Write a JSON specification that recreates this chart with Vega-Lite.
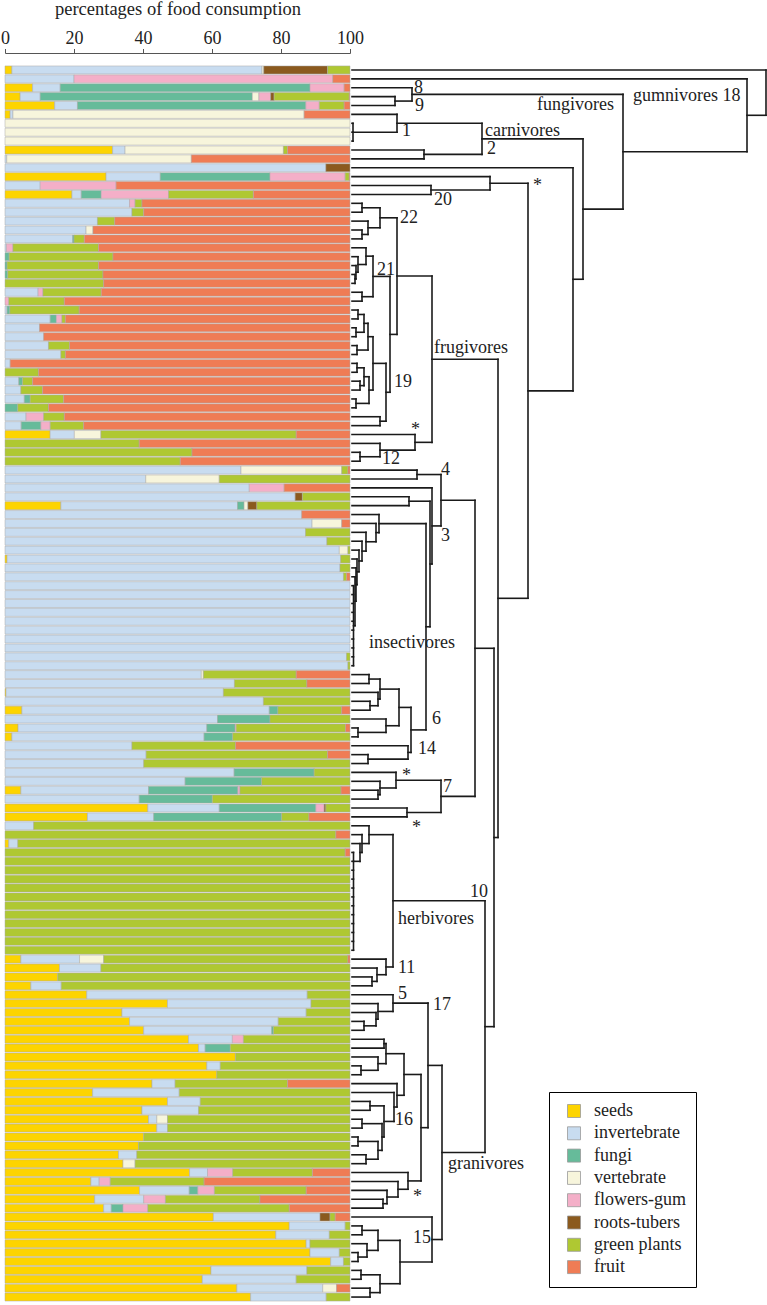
{
  "$schema": "https://vega.github.io/schema/vega-lite/v6.json",
  "autosize": {"type": "none"},
  "padding": {"left": 5, "top": 60.5, "right": 0, "bottom": 0},
  "width": 762,
  "height": 1246,
  "background": "white",
  "config": {"view": {"stroke": null}},
  "datasets": {
    "bars": [
      {"row":0,"seeds":2,"invertebrate":72.5,"vertebrate":0.5,"roots-tubers":18.5,"green plants":6.5},
      {"row":1,"invertebrate":20,"flowers-gum":75,"fruit":5},
      {"row":2,"seeds":8,"invertebrate":8,"fungi":72.4,"flowers-gum":9.9,"fruit":1.7},
      {"row":3,"seeds":4.4,"invertebrate":5.8,"fungi":61.5,"vertebrate":1.9,"flowers-gum":3.4,"roots-tubers":1,"green plants":21.8,"fruit":0.2},
      {"row":4,"seeds":14.4,"invertebrate":6.6,"fungi":66.2,"flowers-gum":3.9,"green plants":7.2,"fruit":1.7},
      {"row":5,"seeds":1.5,"invertebrate":0.8,"vertebrate":84.4,"fruit":13.3},
      {"row":6,"vertebrate":100},
      {"row":7,"vertebrate":100},
      {"row":8,"vertebrate":100},
      {"row":9,"seeds":31.2,"invertebrate":3.6,"vertebrate":45.9,"green plants":1.2,"fruit":18.1},
      {"row":10,"invertebrate":0.5,"vertebrate":53.5,"fruit":46},
      {"row":11,"invertebrate":93,"roots-tubers":7},
      {"row":12,"seeds":29.3,"invertebrate":15.7,"fungi":31.8,"flowers-gum":21.8,"green plants":1.2,"fruit":0.2},
      {"row":13,"invertebrate":10.2,"flowers-gum":22,"fruit":67.8},
      {"row":14,"seeds":19.4,"invertebrate":2.7,"fungi":5.8,"flowers-gum":19.5,"green plants":24.6,"fruit":28},
      {"row":15,"invertebrate":36.1,"flowers-gum":1.6,"green plants":2,"fruit":60.3},
      {"row":16,"invertebrate":36.8,"green plants":3.4,"fruit":59.8},
      {"row":17,"invertebrate":26.8,"green plants":5,"fruit":68.2},
      {"row":18,"invertebrate":23.5,"vertebrate":2,"fruit":74.5},
      {"row":19,"invertebrate":19.6,"fungi":0.4,"green plants":3,"fruit":77},
      {"row":20,"invertebrate":0.4,"flowers-gum":1.9,"green plants":24.8,"fruit":72.9},
      {"row":21,"fungi":1.2,"green plants":30.1,"fruit":68.7},
      {"row":22,"fungi":0.6,"green plants":26.5,"fruit":72.9},
      {"row":23,"fungi":0.8,"green plants":27.6,"fruit":71.6},
      {"row":24,"green plants":28.6,"fruit":71.4},
      {"row":25,"invertebrate":9.6,"flowers-gum":1.4,"green plants":16.9,"fruit":72.1},
      {"row":26,"flowers-gum":1.1,"green plants":16.1,"fruit":82.8},
      {"row":27,"invertebrate":0.6,"fungi":0.8,"green plants":20.1,"fruit":78.5},
      {"row":28,"invertebrate":13.1,"fungi":1.8,"flowers-gum":1.6,"green plants":1,"fruit":82.5},
      {"row":29,"invertebrate":10,"fruit":90},
      {"row":30,"invertebrate":11.2,"fruit":88.8},
      {"row":31,"invertebrate":12.6,"green plants":6.1,"fruit":81.3},
      {"row":32,"invertebrate":16.2,"green plants":1.3,"fruit":82.5},
      {"row":33,"invertebrate":1.5,"fruit":98.5},
      {"row":34,"green plants":9.7,"fruit":90.3},
      {"row":35,"invertebrate":4,"fungi":1.1,"green plants":2.9,"fruit":92},
      {"row":36,"invertebrate":4.6,"green plants":6.3,"fruit":89.1},
      {"row":37,"invertebrate":5.6,"fungi":1.7,"green plants":9.7,"fruit":83},
      {"row":38,"fungi":3.7,"green plants":8.9,"fruit":87.4},
      {"row":39,"invertebrate":6.1,"flowers-gum":5.1,"green plants":6,"fruit":82.8},
      {"row":40,"invertebrate":4.7,"fungi":5.7,"flowers-gum":2.7,"green plants":9.7,"fruit":77.2},
      {"row":41,"seeds":13.1,"invertebrate":7,"vertebrate":7.7,"green plants":56.6,"fruit":15.6},
      {"row":42,"green plants":38.9,"fruit":61.1},
      {"row":43,"green plants":54.2,"fruit":45.8},
      {"row":44,"green plants":50.8,"fruit":49.2},
      {"row":45,"invertebrate":68.4,"vertebrate":29.2,"green plants":1.8,"fruit":0.6},
      {"row":46,"invertebrate":40.8,"vertebrate":21.3,"green plants":37.9},
      {"row":47,"invertebrate":70.8,"flowers-gum":10.1,"fruit":19.1},
      {"row":48,"invertebrate":84.1,"roots-tubers":2.1,"green plants":13.8},
      {"row":49,"seeds":16.2,"invertebrate":51.2,"fungi":1.9,"vertebrate":1.1,"roots-tubers":2.6,"green plants":27},
      {"row":50,"invertebrate":86,"fruit":14},
      {"row":51,"invertebrate":89,"vertebrate":8.6,"fruit":2.4},
      {"row":52,"invertebrate":87.1,"green plants":12.9},
      {"row":53,"invertebrate":93.3,"green plants":6.7},
      {"row":54,"invertebrate":96.9,"vertebrate":2.5,"green plants":0.6},
      {"row":55,"seeds":0.6,"invertebrate":96.7,"green plants":2.7},
      {"row":56,"invertebrate":97.1,"green plants":2.9},
      {"row":57,"invertebrate":98.1,"green plants":0.9,"fruit":1},
      {"row":58,"invertebrate":100},
      {"row":59,"invertebrate":100},
      {"row":60,"invertebrate":100},
      {"row":61,"invertebrate":100},
      {"row":62,"invertebrate":100},
      {"row":63,"invertebrate":100},
      {"row":64,"invertebrate":100},
      {"row":65,"invertebrate":100},
      {"row":66,"invertebrate":99,"green plants":1},
      {"row":67,"invertebrate":99.4,"green plants":0.6},
      {"row":68,"invertebrate":56.9,"vertebrate":0.6,"green plants":26.9,"fruit":15.6},
      {"row":69,"invertebrate":66.5,"green plants":21,"fruit":12.5},
      {"row":70,"seeds":0.3,"invertebrate":63,"green plants":36.7},
      {"row":71,"invertebrate":74.9,"green plants":25.1},
      {"row":72,"seeds":4.9,"invertebrate":71.7,"fungi":2.5,"green plants":18.5,"fruit":2.4},
      {"row":73,"invertebrate":61.6,"fungi":15.2,"green plants":23.2},
      {"row":74,"seeds":3.8,"invertebrate":54.7,"fungi":8.2,"flowers-gum":0.3,"green plants":31.7,"fruit":1.3},
      {"row":75,"seeds":2,"invertebrate":55.7,"fungi":8.3,"green plants":34},
      {"row":76,"invertebrate":36.8,"green plants":30,"fruit":33.2},
      {"row":77,"invertebrate":40.9,"green plants":52.6,"fruit":6.5},
      {"row":78,"invertebrate":40.2,"green plants":59.8},
      {"row":79,"invertebrate":66.4,"fungi":23.2,"green plants":10.4},
      {"row":80,"invertebrate":52.2,"fungi":22.2,"green plants":25.6},
      {"row":81,"seeds":4.6,"invertebrate":37,"fungi":25.9,"flowers-gum":0.6,"green plants":29.3,"fruit":2.6},
      {"row":82,"invertebrate":38.9,"fungi":21.2,"green plants":39.9},
      {"row":83,"seeds":41.4,"invertebrate":20.7,"fungi":28,"flowers-gum":2.4,"roots-tubers":0.5,"green plants":7},
      {"row":84,"seeds":23.9,"invertebrate":19.2,"fungi":37.1,"green plants":7.9,"fruit":11.9},
      {"row":85,"invertebrate":8.3,"green plants":91.7},
      {"row":86,"green plants":95.9,"fruit":4.1},
      {"row":87,"seeds":1.1,"invertebrate":2.6,"green plants":96.3},
      {"row":88,"green plants":98.6,"fruit":1.4},
      {"row":89,"green plants":100},
      {"row":90,"green plants":100},
      {"row":91,"green plants":100},
      {"row":92,"green plants":100},
      {"row":93,"green plants":100},
      {"row":94,"green plants":100},
      {"row":95,"green plants":100},
      {"row":96,"green plants":100},
      {"row":97,"green plants":100},
      {"row":98,"green plants":100},
      {"row":99,"green plants":100},
      {"row":100,"seeds":4.6,"invertebrate":17,"vertebrate":7,"green plants":70.8,"fruit":0.6},
      {"row":101,"seeds":15.8,"invertebrate":12,"green plants":72.2},
      {"row":102,"seeds":15.3,"green plants":84.7},
      {"row":103,"seeds":7.5,"invertebrate":8.8,"green plants":83.7},
      {"row":104,"seeds":23.7,"invertebrate":63.9,"green plants":12.4},
      {"row":105,"seeds":47.1,"invertebrate":41.6,"green plants":11.3},
      {"row":106,"seeds":33.9,"invertebrate":53.4,"green plants":12.7},
      {"row":107,"seeds":36.1,"invertebrate":43.1,"green plants":20.8},
      {"row":108,"seeds":40.2,"invertebrate":37.1,"fungi":0.5,"green plants":22.2},
      {"row":109,"seeds":53.2,"invertebrate":12.7,"flowers-gum":3.2,"green plants":30.9},
      {"row":110,"seeds":56.1,"invertebrate":1.9,"fungi":7.3,"green plants":34.7},
      {"row":111,"seeds":66.8,"green plants":33.2},
      {"row":112,"seeds":58.5,"invertebrate":3.9,"green plants":37.6},
      {"row":113,"seeds":61.4,"green plants":38.6},
      {"row":114,"seeds":42.6,"invertebrate":6.7,"green plants":32.6,"fruit":18.1},
      {"row":115,"seeds":25.4,"invertebrate":25.1,"green plants":49.5},
      {"row":116,"seeds":47.1,"invertebrate":9.5,"green plants":43.4},
      {"row":117,"seeds":39.7,"invertebrate":16.4,"green plants":43.9},
      {"row":118,"seeds":41.6,"invertebrate":2.4,"vertebrate":3.1,"green plants":52.9},
      {"row":119,"seeds":44,"invertebrate":3.1,"green plants":52.9},
      {"row":120,"seeds":40.2,"green plants":59.8},
      {"row":121,"seeds":38.7,"green plants":61.3},
      {"row":122,"seeds":32.9,"invertebrate":5.3,"green plants":61.8},
      {"row":123,"seeds":34.2,"vertebrate":3.5,"green plants":62.3},
      {"row":124,"seeds":53.5,"invertebrate":5.2,"flowers-gum":7.3,"green plants":23.1,"fruit":10.9},
      {"row":125,"seeds":24.9,"invertebrate":2.4,"flowers-gum":3.2,"green plants":27.2,"fruit":42.3},
      {"row":126,"seeds":39,"invertebrate":14.4,"fungi":2.5,"flowers-gum":4.8,"green plants":26.6,"fruit":12.7},
      {"row":127,"seeds":26,"invertebrate":14.2,"flowers-gum":6.3,"green plants":27.4,"fruit":26.1},
      {"row":128,"seeds":28.6,"invertebrate":2.2,"fungi":3.4,"flowers-gum":7.2,"green plants":41,"fruit":17.6},
      {"row":129,"seeds":60.4,"invertebrate":30.9,"roots-tubers":2.9,"green plants":1.5,"fruit":4.3},
      {"row":130,"seeds":82.4,"invertebrate":16.2,"green plants":1.4},
      {"row":131,"seeds":78.5,"invertebrate":15.5,"green plants":6},
      {"row":132,"seeds":87.3,"invertebrate":1.1,"green plants":11.6},
      {"row":133,"seeds":88.4,"invertebrate":8.5,"green plants":3.1},
      {"row":134,"seeds":94.4,"invertebrate":3.7,"green plants":1.9},
      {"row":135,"seeds":59.7,"invertebrate":27.8,"green plants":12.5},
      {"row":136,"seeds":57.2,"invertebrate":27.2,"green plants":15.6},
      {"row":137,"seeds":67.2,"invertebrate":24.9,"vertebrate":4,"fruit":3.9},
      {"row":138,"seeds":71.2,"invertebrate":21.9,"green plants":6.9}
    ],
    "tree": [
      {"d1":43,"d2":43,"r1":3,"r2":4},{"d1":0,"d2":43,"r1":3,"r2":3},{"d1":0,"d2":43,"r1":4,"r2":4},
      {"d1":60,"d2":60,"r1":2,"r2":3.5},{"d1":0,"d2":60,"r1":2,"r2":2},{"d1":43,"d2":60,"r1":3.5,"r2":3.5},
      {"d1":1,"d2":1,"r1":6,"r2":8},{"d1":0,"d2":1,"r1":6,"r2":6},{"d1":0,"d2":1,"r1":7,"r2":7},{"d1":0,"d2":1,"r1":8,"r2":8},
      {"d1":45,"d2":45,"r1":5,"r2":7},{"d1":0,"d2":45,"r1":5,"r2":5},{"d1":1,"d2":45,"r1":7,"r2":7},
      {"d1":72,"d2":72,"r1":9,"r2":10},{"d1":0,"d2":72,"r1":9,"r2":9},{"d1":0,"d2":72,"r1":10,"r2":10},
      {"d1":130,"d2":130,"r1":6,"r2":9.5},{"d1":45,"d2":130,"r1":6,"r2":6},{"d1":72,"d2":130,"r1":9.5,"r2":9.5},
      {"d1":79,"d2":79,"r1":13,"r2":14},{"d1":0,"d2":79,"r1":13,"r2":13},{"d1":0,"d2":79,"r1":14,"r2":14},
      {"d1":138,"d2":138,"r1":12,"r2":13.5},{"d1":0,"d2":138,"r1":12,"r2":12},{"d1":79,"d2":138,"r1":13.5,"r2":13.5},
      {"d1":10,"d2":10,"r1":15,"r2":16},{"d1":0,"d2":10,"r1":15,"r2":15},{"d1":0,"d2":10,"r1":16,"r2":16},
      {"d1":10,"d2":10,"r1":18,"r2":19},{"d1":0,"d2":10,"r1":18,"r2":18},{"d1":0,"d2":10,"r1":19,"r2":19},
      {"d1":16,"d2":16,"r1":17,"r2":18.5},{"d1":0,"d2":16,"r1":17,"r2":17},{"d1":10,"d2":16,"r1":18.5,"r2":18.5},
      {"d1":28,"d2":28,"r1":15.5,"r2":17.75},{"d1":10,"d2":28,"r1":15.5,"r2":15.5},{"d1":16,"d2":28,"r1":17.75,"r2":17.75},
      {"d1":3,"d2":3,"r1":23,"r2":24},{"d1":0,"d2":3,"r1":23,"r2":23},{"d1":0,"d2":3,"r1":24,"r2":24},
      {"d1":4,"d2":4,"r1":22,"r2":23.5},{"d1":0,"d2":4,"r1":22,"r2":22},{"d1":3,"d2":4,"r1":23.5,"r2":23.5},
      {"d1":6,"d2":6,"r1":21,"r2":22.75},{"d1":0,"d2":6,"r1":21,"r2":21},{"d1":4,"d2":6,"r1":22.75,"r2":22.75},
      {"d1":14,"d2":14,"r1":20,"r2":21.88},{"d1":0,"d2":14,"r1":20,"r2":20},{"d1":6,"d2":14,"r1":21.88,"r2":21.88},
      {"d1":10,"d2":10,"r1":25,"r2":26},{"d1":0,"d2":10,"r1":25,"r2":25},{"d1":0,"d2":10,"r1":26,"r2":26},
      {"d1":21,"d2":21,"r1":20.94,"r2":25.5},{"d1":14,"d2":21,"r1":20.94,"r2":20.94},{"d1":10,"d2":21,"r1":25.5,"r2":25.5},
      {"d1":6,"d2":6,"r1":27,"r2":28},{"d1":0,"d2":6,"r1":27,"r2":27},{"d1":0,"d2":6,"r1":28,"r2":28},
      {"d1":4,"d2":4,"r1":29,"r2":30},{"d1":0,"d2":4,"r1":29,"r2":29},{"d1":0,"d2":4,"r1":30,"r2":30},
      {"d1":12,"d2":12,"r1":27.5,"r2":29.5},{"d1":6,"d2":12,"r1":27.5,"r2":27.5},{"d1":4,"d2":12,"r1":29.5,"r2":29.5},
      {"d1":5,"d2":5,"r1":31,"r2":32},{"d1":0,"d2":5,"r1":31,"r2":31},{"d1":0,"d2":5,"r1":32,"r2":32},
      {"d1":16,"d2":16,"r1":28.5,"r2":31.5},{"d1":12,"d2":16,"r1":28.5,"r2":28.5},{"d1":5,"d2":16,"r1":31.5,"r2":31.5},
      {"d1":5,"d2":5,"r1":33,"r2":34},{"d1":0,"d2":5,"r1":33,"r2":33},{"d1":0,"d2":5,"r1":34,"r2":34},
      {"d1":8,"d2":8,"r1":35,"r2":36},{"d1":0,"d2":8,"r1":35,"r2":35},{"d1":0,"d2":8,"r1":36,"r2":36},
      {"d1":12,"d2":12,"r1":33.5,"r2":35.5},{"d1":5,"d2":12,"r1":33.5,"r2":33.5},{"d1":8,"d2":12,"r1":35.5,"r2":35.5},
      {"d1":4,"d2":4,"r1":37,"r2":38},{"d1":0,"d2":4,"r1":37,"r2":37},{"d1":0,"d2":4,"r1":38,"r2":38},
      {"d1":17,"d2":17,"r1":34.5,"r2":37.5},{"d1":12,"d2":17,"r1":34.5,"r2":34.5},{"d1":4,"d2":17,"r1":37.5,"r2":37.5},
      {"d1":21,"d2":21,"r1":30,"r2":36},{"d1":16,"d2":21,"r1":30,"r2":30},{"d1":17,"d2":21,"r1":36,"r2":36},
      {"d1":28,"d2":28,"r1":39,"r2":40},{"d1":0,"d2":28,"r1":39,"r2":39},{"d1":0,"d2":28,"r1":40,"r2":40},
      {"d1":34,"d2":34,"r1":33,"r2":39.5},{"d1":21,"d2":34,"r1":33,"r2":33},{"d1":28,"d2":34,"r1":39.5,"r2":39.5},
      {"d1":38,"d2":38,"r1":23.22,"r2":36.25},{"d1":21,"d2":38,"r1":23.22,"r2":23.22},{"d1":34,"d2":38,"r1":36.25,"r2":36.25},
      {"d1":45,"d2":45,"r1":16.63,"r2":29.74},{"d1":28,"d2":45,"r1":16.63,"r2":16.63},{"d1":38,"d2":45,"r1":29.74,"r2":29.74},
      {"d1":8,"d2":8,"r1":43,"r2":44},{"d1":0,"d2":8,"r1":43,"r2":43},{"d1":0,"d2":8,"r1":44,"r2":44},
      {"d1":28,"d2":28,"r1":42,"r2":43.5},{"d1":0,"d2":28,"r1":42,"r2":42},{"d1":8,"d2":28,"r1":43.5,"r2":43.5},
      {"d1":63,"d2":63,"r1":41,"r2":42.75},{"d1":0,"d2":63,"r1":41,"r2":41},{"d1":28,"d2":63,"r1":42.75,"r2":42.75},
      {"d1":80,"d2":80,"r1":23.18,"r2":41.88},{"d1":45,"d2":80,"r1":23.18,"r2":23.18},{"d1":63,"d2":80,"r1":41.88,"r2":41.88},
      {"d1":65,"d2":65,"r1":45,"r2":46},{"d1":0,"d2":65,"r1":45,"r2":45},{"d1":0,"d2":65,"r1":46,"r2":46},
      {"d1":57,"d2":57,"r1":48,"r2":49},{"d1":0,"d2":57,"r1":48,"r2":48},{"d1":0,"d2":57,"r1":49,"r2":49},
      {"d1":1.5,"d2":1.5,"r1":58,"r2":67},
      {"d1":0,"d2":1.5,"r1":58,"r2":58},{"d1":0,"d2":1.5,"r1":59,"r2":59},{"d1":0,"d2":1.5,"r1":60,"r2":60},{"d1":0,"d2":1.5,"r1":61,"r2":61},{"d1":0,"d2":1.5,"r1":62,"r2":62},
      {"d1":0,"d2":1.5,"r1":63,"r2":63},{"d1":0,"d2":1.5,"r1":64,"r2":64},{"d1":0,"d2":1.5,"r1":65,"r2":65},{"d1":0,"d2":1.5,"r1":66,"r2":66},{"d1":0,"d2":1.5,"r1":67,"r2":67},
      {"d1":3,"d2":3,"r1":57,"r2":62.5},{"d1":0,"d2":3,"r1":57,"r2":57},{"d1":1.5,"d2":3,"r1":62.5,"r2":62.5},
      {"d1":4,"d2":4,"r1":56,"r2":59.75},{"d1":0,"d2":4,"r1":56,"r2":56},{"d1":3,"d2":4,"r1":59.75,"r2":59.75},
      {"d1":5,"d2":5,"r1":55,"r2":57.88},{"d1":0,"d2":5,"r1":55,"r2":55},{"d1":4,"d2":5,"r1":57.88,"r2":57.88},
      {"d1":7,"d2":7,"r1":54,"r2":56.44},{"d1":0,"d2":7,"r1":54,"r2":54},{"d1":5,"d2":7,"r1":56.44,"r2":56.44},
      {"d1":10,"d2":10,"r1":53,"r2":55.22},{"d1":0,"d2":10,"r1":53,"r2":53},{"d1":7,"d2":10,"r1":55.22,"r2":55.22},
      {"d1":14,"d2":14,"r1":52,"r2":54.11},{"d1":0,"d2":14,"r1":52,"r2":52},{"d1":10,"d2":14,"r1":54.11,"r2":54.11},
      {"d1":24,"d2":24,"r1":51,"r2":53.06},{"d1":0,"d2":24,"r1":51,"r2":51},{"d1":14,"d2":24,"r1":53.06,"r2":53.06},
      {"d1":27,"d2":27,"r1":50,"r2":52.03},{"d1":0,"d2":27,"r1":50,"r2":50},{"d1":24,"d2":27,"r1":52.03,"r2":52.03},
      {"d1":17,"d2":17,"r1":68,"r2":69},{"d1":0,"d2":17,"r1":68,"r2":68},{"d1":0,"d2":17,"r1":69,"r2":69},
      {"d1":18,"d2":18,"r1":71,"r2":72},{"d1":0,"d2":18,"r1":71,"r2":71},{"d1":0,"d2":18,"r1":72,"r2":72},
      {"d1":26,"d2":26,"r1":70,"r2":71.5},{"d1":0,"d2":26,"r1":70,"r2":70},{"d1":18,"d2":26,"r1":71.5,"r2":71.5},
      {"d1":28,"d2":28,"r1":68.5,"r2":70.75},{"d1":17,"d2":28,"r1":68.5,"r2":68.5},{"d1":26,"d2":28,"r1":70.75,"r2":70.75},
      {"d1":6,"d2":6,"r1":74,"r2":75},{"d1":0,"d2":6,"r1":74,"r2":74},{"d1":0,"d2":6,"r1":75,"r2":75},
      {"d1":34,"d2":34,"r1":73,"r2":74.5},{"d1":0,"d2":34,"r1":73,"r2":73},{"d1":6,"d2":34,"r1":74.5,"r2":74.5},
      {"d1":47,"d2":47,"r1":69.63,"r2":73.75},{"d1":28,"d2":47,"r1":69.63,"r2":69.63},{"d1":34,"d2":47,"r1":73.75,"r2":73.75},
      {"d1":16,"d2":16,"r1":77,"r2":78},{"d1":0,"d2":16,"r1":77,"r2":77},{"d1":0,"d2":16,"r1":78,"r2":78},
      {"d1":56,"d2":56,"r1":76,"r2":77.5},{"d1":0,"d2":56,"r1":76,"r2":76},{"d1":16,"d2":56,"r1":77.5,"r2":77.5},
      {"d1":59,"d2":59,"r1":71.69,"r2":76.75},{"d1":47,"d2":59,"r1":71.69,"r2":71.69},{"d1":56,"d2":59,"r1":76.75,"r2":76.75},
      {"d1":74,"d2":74,"r1":51.02,"r2":74.22},{"d1":27,"d2":74,"r1":51.02,"r2":51.02},{"d1":59,"d2":74,"r1":74.22,"r2":74.22},
      {"d1":78,"d2":78,"r1":48.5,"r2":62.62},{"d1":57,"d2":78,"r1":48.5,"r2":48.5},{"d1":74,"d2":78,"r1":62.62,"r2":62.62},
      {"d1":80,"d2":80,"r1":47,"r2":55.56},{"d1":0,"d2":80,"r1":47,"r2":47},{"d1":78,"d2":80,"r1":55.56,"r2":55.56},
      {"d1":89,"d2":89,"r1":45.5,"r2":51.28},{"d1":65,"d2":89,"r1":45.5,"r2":45.5},{"d1":80,"d2":89,"r1":51.28,"r2":51.28},
      {"d1":26,"d2":26,"r1":81,"r2":82},{"d1":0,"d2":26,"r1":81,"r2":81},{"d1":0,"d2":26,"r1":82,"r2":82},
      {"d1":28,"d2":28,"r1":80,"r2":81.5},{"d1":0,"d2":28,"r1":80,"r2":80},{"d1":26,"d2":28,"r1":81.5,"r2":81.5},
      {"d1":44,"d2":44,"r1":79,"r2":80.75},{"d1":0,"d2":44,"r1":79,"r2":79},{"d1":28,"d2":44,"r1":80.75,"r2":80.75},
      {"d1":55,"d2":55,"r1":83,"r2":84},{"d1":0,"d2":55,"r1":83,"r2":83},{"d1":0,"d2":55,"r1":84,"r2":84},
      {"d1":89,"d2":89,"r1":79.88,"r2":83.5},{"d1":44,"d2":89,"r1":79.88,"r2":79.88},{"d1":55,"d2":89,"r1":83.5,"r2":83.5},
      {"d1":123,"d2":123,"r1":48.39,"r2":81.69},{"d1":89,"d2":123,"r1":48.39,"r2":48.39},{"d1":89,"d2":123,"r1":81.69,"r2":81.69},
      {"d1":1.5,"d2":1.5,"r1":88,"r2":99},
      {"d1":0,"d2":1.5,"r1":88,"r2":88},{"d1":0,"d2":1.5,"r1":89,"r2":89},{"d1":0,"d2":1.5,"r1":90,"r2":90},{"d1":0,"d2":1.5,"r1":91,"r2":91},
      {"d1":0,"d2":1.5,"r1":92,"r2":92},{"d1":0,"d2":1.5,"r1":93,"r2":93},{"d1":0,"d2":1.5,"r1":94,"r2":94},{"d1":0,"d2":1.5,"r1":95,"r2":95},
      {"d1":0,"d2":1.5,"r1":96,"r2":96},{"d1":0,"d2":1.5,"r1":97,"r2":97},{"d1":0,"d2":1.5,"r1":98,"r2":98},{"d1":0,"d2":1.5,"r1":99,"r2":99},
      {"d1":8,"d2":8,"r1":87,"r2":89},{"d1":0,"d2":8,"r1":87,"r2":87},{"d1":1.5,"d2":8,"r1":89,"r2":89},
      {"d1":10,"d2":10,"r1":86,"r2":88},{"d1":0,"d2":10,"r1":86,"r2":86},{"d1":8,"d2":10,"r1":88,"r2":88},
      {"d1":17,"d2":17,"r1":85,"r2":87},{"d1":0,"d2":17,"r1":85,"r2":85},{"d1":10,"d2":17,"r1":87,"r2":87},
      {"d1":20,"d2":20,"r1":102,"r2":103},{"d1":0,"d2":20,"r1":102,"r2":102},{"d1":0,"d2":20,"r1":103,"r2":103},
      {"d1":25,"d2":25,"r1":101,"r2":102.5},{"d1":0,"d2":25,"r1":101,"r2":101},{"d1":20,"d2":25,"r1":102.5,"r2":102.5},
      {"d1":34,"d2":34,"r1":100,"r2":101.75},{"d1":0,"d2":34,"r1":100,"r2":100},{"d1":25,"d2":34,"r1":101.75,"r2":101.75},
      {"d1":41,"d2":41,"r1":86,"r2":100.88},{"d1":17,"d2":41,"r1":86,"r2":86},{"d1":34,"d2":41,"r1":100.88,"r2":100.88},
      {"d1":12,"d2":12,"r1":107,"r2":108},{"d1":0,"d2":12,"r1":107,"r2":107},{"d1":0,"d2":12,"r1":108,"r2":108},
      {"d1":24,"d2":24,"r1":106,"r2":107.5},{"d1":0,"d2":24,"r1":106,"r2":106},{"d1":12,"d2":24,"r1":107.5,"r2":107.5},
      {"d1":26,"d2":26,"r1":105,"r2":106.75},{"d1":0,"d2":26,"r1":105,"r2":105},{"d1":24,"d2":26,"r1":106.75,"r2":106.75},
      {"d1":41,"d2":41,"r1":104,"r2":105.88},{"d1":0,"d2":41,"r1":104,"r2":104},{"d1":26,"d2":41,"r1":105.88,"r2":105.88},
      {"d1":32,"d2":32,"r1":109,"r2":110},{"d1":0,"d2":32,"r1":109,"r2":109},{"d1":0,"d2":32,"r1":110,"r2":110},
      {"d1":9,"d2":9,"r1":112,"r2":113},{"d1":0,"d2":9,"r1":112,"r2":112},{"d1":0,"d2":9,"r1":113,"r2":113},
      {"d1":26,"d2":26,"r1":111,"r2":112.5},{"d1":0,"d2":26,"r1":111,"r2":111},{"d1":9,"d2":26,"r1":112.5,"r2":112.5},
      {"d1":34,"d2":34,"r1":109.5,"r2":111.75},{"d1":32,"d2":34,"r1":109.5,"r2":109.5},{"d1":26,"d2":34,"r1":111.75,"r2":111.75},
      {"d1":18,"d2":18,"r1":116,"r2":117},{"d1":0,"d2":18,"r1":116,"r2":116},{"d1":0,"d2":18,"r1":117,"r2":117},
      {"d1":10,"d2":10,"r1":118,"r2":119},{"d1":0,"d2":10,"r1":118,"r2":118},{"d1":0,"d2":10,"r1":119,"r2":119},
      {"d1":6,"d2":6,"r1":120,"r2":121},{"d1":0,"d2":6,"r1":120,"r2":120},{"d1":0,"d2":6,"r1":121,"r2":121},
      {"d1":14,"d2":14,"r1":122,"r2":123},{"d1":0,"d2":14,"r1":122,"r2":122},{"d1":0,"d2":14,"r1":123,"r2":123},
      {"d1":26,"d2":26,"r1":120.5,"r2":122.5},{"d1":6,"d2":26,"r1":120.5,"r2":120.5},{"d1":14,"d2":26,"r1":122.5,"r2":122.5},
      {"d1":30,"d2":30,"r1":118.5,"r2":121.5},{"d1":10,"d2":30,"r1":118.5,"r2":118.5},{"d1":26,"d2":30,"r1":121.5,"r2":121.5},
      {"d1":32,"d2":32,"r1":116.5,"r2":120},{"d1":18,"d2":32,"r1":116.5,"r2":116.5},{"d1":30,"d2":32,"r1":120,"r2":120},
      {"d1":42,"d2":42,"r1":115,"r2":118.25},{"d1":0,"d2":42,"r1":115,"r2":115},{"d1":32,"d2":42,"r1":118.25,"r2":118.25},
      {"d1":45,"d2":45,"r1":114,"r2":116.63},{"d1":0,"d2":45,"r1":114,"r2":114},{"d1":42,"d2":45,"r1":116.63,"r2":116.63},
      {"d1":52,"d2":52,"r1":110.63,"r2":115.31},{"d1":34,"d2":52,"r1":110.63,"r2":110.63},{"d1":45,"d2":52,"r1":115.31,"r2":115.31},
      {"d1":31,"d2":31,"r1":127,"r2":128},{"d1":0,"d2":31,"r1":127,"r2":127},{"d1":0,"d2":31,"r1":128,"r2":128},
      {"d1":35,"d2":35,"r1":126,"r2":127.5},{"d1":0,"d2":35,"r1":126,"r2":126},{"d1":31,"d2":35,"r1":127.5,"r2":127.5},
      {"d1":46,"d2":46,"r1":125,"r2":126.75},{"d1":0,"d2":46,"r1":125,"r2":125},{"d1":35,"d2":46,"r1":126.75,"r2":126.75},
      {"d1":56,"d2":56,"r1":124,"r2":125.88},{"d1":0,"d2":56,"r1":124,"r2":124},{"d1":46,"d2":56,"r1":125.88,"r2":125.88},
      {"d1":69,"d2":69,"r1":112.97,"r2":124.94},{"d1":52,"d2":69,"r1":112.97,"r2":112.97},{"d1":56,"d2":69,"r1":124.94,"r2":124.94},
      {"d1":76,"d2":76,"r1":104.94,"r2":118.95},{"d1":41,"d2":76,"r1":104.94,"r2":104.94},{"d1":69,"d2":76,"r1":118.95,"r2":118.95},
      {"d1":10,"d2":10,"r1":130,"r2":131},{"d1":0,"d2":10,"r1":130,"r2":130},{"d1":0,"d2":10,"r1":131,"r2":131},
      {"d1":6,"d2":6,"r1":133,"r2":134},{"d1":0,"d2":6,"r1":133,"r2":133},{"d1":0,"d2":6,"r1":134,"r2":134},
      {"d1":15,"d2":15,"r1":132,"r2":133.5},{"d1":0,"d2":15,"r1":132,"r2":132},{"d1":6,"d2":15,"r1":133.5,"r2":133.5},
      {"d1":26,"d2":26,"r1":130.5,"r2":132.75},{"d1":10,"d2":26,"r1":130.5,"r2":130.5},{"d1":15,"d2":26,"r1":132.75,"r2":132.75},
      {"d1":9,"d2":9,"r1":135,"r2":136},{"d1":0,"d2":9,"r1":135,"r2":135},{"d1":0,"d2":9,"r1":136,"r2":136},
      {"d1":18,"d2":18,"r1":137,"r2":138},{"d1":0,"d2":18,"r1":137,"r2":137},{"d1":0,"d2":18,"r1":138,"r2":138},
      {"d1":28,"d2":28,"r1":135.5,"r2":137.5},{"d1":9,"d2":28,"r1":135.5,"r2":135.5},{"d1":18,"d2":28,"r1":137.5,"r2":137.5},
      {"d1":48,"d2":48,"r1":131.63,"r2":136.5},{"d1":26,"d2":48,"r1":131.63,"r2":131.63},{"d1":28,"d2":48,"r1":136.5,"r2":136.5},
      {"d1":80,"d2":80,"r1":129,"r2":134.06},{"d1":0,"d2":80,"r1":129,"r2":129},{"d1":48,"d2":80,"r1":134.06,"r2":134.06},
      {"d1":90,"d2":90,"r1":111.95,"r2":131.53},{"d1":76,"d2":90,"r1":111.95,"r2":111.95},{"d1":80,"d2":90,"r1":131.53,"r2":131.53},
      {"d1":133,"d2":133,"r1":93.44,"r2":121.74},{"d1":41,"d2":133,"r1":93.44,"r2":93.44},{"d1":90,"d2":133,"r1":121.74,"r2":121.74},
      {"d1":142,"d2":142,"r1":65.04,"r2":107.59},{"d1":123,"d2":142,"r1":65.04,"r2":65.04},{"d1":133,"d2":142,"r1":107.59,"r2":107.59},
      {"d1":146,"d2":146,"r1":32.53,"r2":86.32},{"d1":80,"d2":146,"r1":32.53,"r2":32.53},{"d1":142,"d2":146,"r1":86.32,"r2":86.32},
      {"d1":176,"d2":176,"r1":12.75,"r2":59.42},{"d1":138,"d2":176,"r1":12.75,"r2":12.75},{"d1":146,"d2":176,"r1":59.42,"r2":59.42},
      {"d1":221,"d2":221,"r1":11,"r2":36.09},{"d1":0,"d2":221,"r1":11,"r2":11},{"d1":176,"d2":221,"r1":36.09,"r2":36.09},
      {"d1":231,"d2":231,"r1":7.75,"r2":23.54},{"d1":130,"d2":231,"r1":7.75,"r2":7.75},{"d1":221,"d2":231,"r1":23.54,"r2":23.54},
      {"d1":271,"d2":271,"r1":2.75,"r2":15.65},{"d1":60,"d2":271,"r1":2.75,"r2":2.75},{"d1":231,"d2":271,"r1":15.65,"r2":15.65},
      {"d1":395,"d2":395,"r1":1,"r2":9.2},{"d1":0,"d2":395,"r1":1,"r2":1},{"d1":271,"d2":395,"r1":9.2,"r2":9.2},
      {"d1":414,"d2":414,"r1":0,"r2":5.1},{"d1":0,"d2":414,"r1":0,"r2":0},{"d1":395,"d2":414,"r1":5.1,"r2":5.1}
    ],
    "labels": [
      {"d":62,"r":2.0,"t":"8"},
      {"d":63,"r":4.0,"t":"9"},
      {"d":281,"r":2.95,"t":"gumnivores 18"},
      {"d":185,"r":3.96,"t":"fungivores"},
      {"d":50,"r":6.9,"t":"1"},
      {"d":133,"r":6.85,"t":"carnivores"},
      {"d":135,"r":8.9,"t":"2"},
      {"d":181,"r":13.0,"t":"*"},
      {"d":82,"r":14.6,"t":"20"},
      {"d":48,"r":16.7,"t":"22"},
      {"d":25,"r":22.5,"t":"21"},
      {"d":82,"r":31.3,"t":"frugivores"},
      {"d":42,"r":35.1,"t":"19"},
      {"d":59,"r":40.5,"t":"*"},
      {"d":30,"r":43.8,"t":"12"},
      {"d":89,"r":45.0,"t":"4"},
      {"d":89,"r":52.4,"t":"3"},
      {"d":17,"r":64.5,"t":"insectivores"},
      {"d":80,"r":73.0,"t":"6"},
      {"d":66,"r":76.4,"t":"14"},
      {"d":50,"r":79.4,"t":"*"},
      {"d":91,"r":80.6,"t":"7"},
      {"d":60,"r":85.3,"t":"*"},
      {"d":118,"r":92.4,"t":"10"},
      {"d":46,"r":95.5,"t":"herbivores"},
      {"d":46,"r":101,"t":"11"},
      {"d":46,"r":103.9,"t":"5"},
      {"d":81,"r":105.2,"t":"17"},
      {"d":43,"r":118.1,"t":"16"},
      {"d":96,"r":123.0,"t":"granivores"},
      {"d":61,"r":126.8,"t":"*"},
      {"d":61,"r":131.4,"t":"15"}
    ]
  },
  "resolve": {"scale": {"x": "independent"}, "axis": {"x": "independent"}},
  "layer": [
    {
      "data": {"name": "bars"},
      "transform": [
        {"fold": ["seeds","invertebrate","fungi","vertebrate","flowers-gum","roots-tubers","green plants","fruit"], "as": ["food","pct"]},
        {"window": [{"op": "row_number", "as": "k"}], "groupby": ["row"]},
        {"filter": "datum.pct > 0"}
      ],
      "mark": {"type": "bar", "orient": "horizontal", "height": 8, "stroke": "#a8a8a8", "strokeWidth": 0.5},
      "encoding": {
        "y": {"field": "row", "type": "quantitative", "scale": {"domain": [-0.5, 138.5], "reverse": true, "nice": false, "zero": false}, "axis": null},
        "x": {"field": "pct", "type": "quantitative", "stack": "zero",
          "scale": {"domain": [0, 100], "range": [0, 345], "nice": false},
          "axis": {"orient": "top", "offset": 7.5, "values": [0,20,40,60,80,100], "title": "percentages of food consumption",
            "titleFont": "Liberation Serif", "titleFontSize": 18.5, "titleFontWeight": "normal", "titleColor": "#222", "titlePadding": 11,
            "labelFont": "Liberation Serif", "labelFontSize": 18, "labelColor": "#222", "labelPadding": 1, "labelFlush": false, "labelOverlap": false,
            "tickSize": 4.5, "tickColor": "#555", "domainColor": "#555", "grid": false}},
        "order": {"field": "k", "type": "quantitative", "sort": "ascending"},
        "color": {"field": "food", "type": "nominal",
          "scale": {"domain": ["seeds","invertebrate","fungi","vertebrate","flowers-gum","roots-tubers","green plants","fruit"],
                    "range": ["#FDD400","#C8DCF0","#66BB9A","#F7F5DC","#F4AFC8","#8B5A1E","#AFC832","#EF7C55"]},
          "legend": {"orient": "none", "legendX": 544, "legendY": 1031.5, "title": null, "symbolType": "square", "symbolSize": 169,
            "symbolStrokeColor": "#999", "symbolStrokeWidth": 0.8, "symbolOpacity": 1, "labelFont": "Liberation Serif", "labelFontSize": 18,
            "labelColor": "#222", "labelOffset": 11, "strokeColor": "#000", "padding": 10, "rowPadding": 4.3, "symbolOffset": 6}}
      }
    },
    {
      "data": {"name": "tree"},
      "mark": {"type": "rule", "color": "#1a1a1a", "strokeWidth": 1.6, "strokeCap": "square"},
      "encoding": {
        "x": {"field": "d1", "type": "quantitative", "scale": {"domain": [0, 415], "range": [347, 762], "nice": false, "zero": false}, "axis": null},
        "x2": {"field": "d2"},
        "y": {"field": "r1", "type": "quantitative", "scale": {"domain": [-0.5, 138.5], "reverse": true, "nice": false, "zero": false}, "axis": null},
        "y2": {"field": "r2"}
      }
    },
    {
      "data": {"name": "labels"},
      "mark": {"type": "text", "align": "left", "baseline": "middle", "font": "Liberation Serif", "fontSize": 18, "color": "#222"},
      "encoding": {
        "x": {"field": "d", "type": "quantitative", "scale": {"domain": [0, 415], "range": [347, 762], "nice": false, "zero": false}, "axis": null},
        "y": {"field": "r", "type": "quantitative", "scale": {"domain": [-0.5, 138.5], "reverse": true, "nice": false, "zero": false}, "axis": null},
        "text": {"field": "t"}
      }
    }
  ]
}
